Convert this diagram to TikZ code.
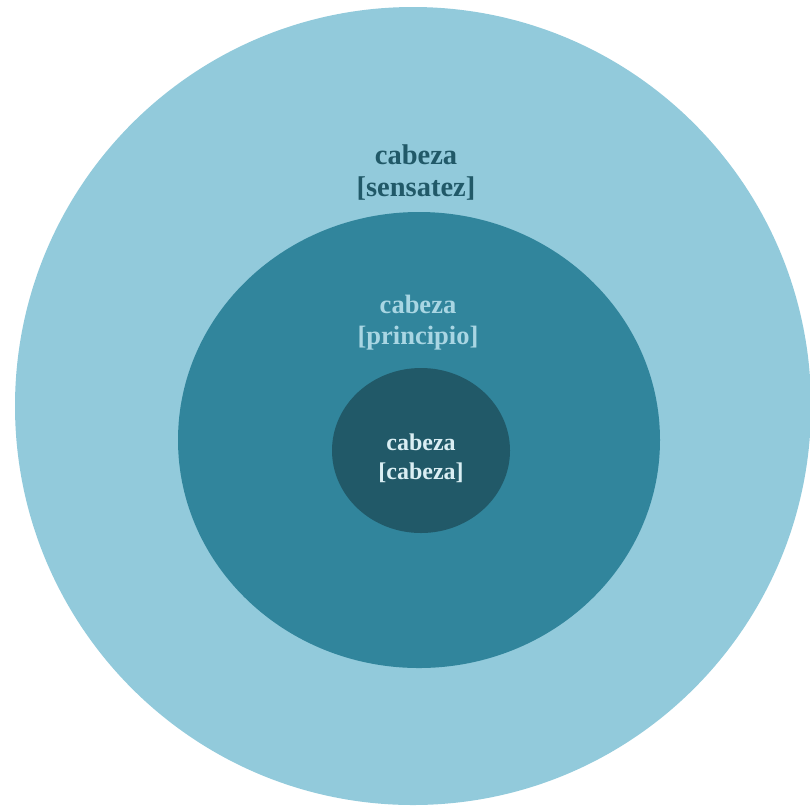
\documentclass[tikz,border=0pt]{standalone}
\usepackage{fontspec}
\setmainfont{Liberation Serif}
\definecolor{ringouter}{HTML}{92CADB}
\definecolor{ringmid}{HTML}{31859C}
\definecolor{ringinner}{HTML}{215968}
\definecolor{txtouter}{HTML}{215968}
\definecolor{txtmid}{HTML}{A9D6E3}
\definecolor{txtinner}{HTML}{DAEEF3}
\tikzset{
  lbl/.style={align=center, inner sep=0pt},
}
\begin{document}
\begin{tikzpicture}[x=1pt, y=-1pt]
  \useasboundingbox (0,0) rectangle (810,807);
  \clip (0,0) rectangle (810,807);
  % three nested layers
  \fill[ringouter] (413,406) ellipse [x radius=398, y radius=399];
  \fill[ringmid] (419,440) ellipse [x radius=241, y radius=228];
  \fill[ringinner] (421,450.5) ellipse [x radius=89, y radius=82.5];
  % labels
  \node[lbl, text=txtouter, font=\bfseries\fontsize{28.5}{32}\selectfont] (louter) at (416,173) {cabeza\\{[}sensatez{]}};
  \node[lbl, text=txtmid, font=\bfseries\fontsize{26.5}{31}\selectfont] (lmid) at (418,323) {cabeza\\{[}principio{]}};
  \node[lbl, text=txtinner, font=\bfseries\fontsize{24}{29}\selectfont] (linner) at (421,458) {cabeza\\{[}cabeza{]}};
\end{tikzpicture}
\end{document}
